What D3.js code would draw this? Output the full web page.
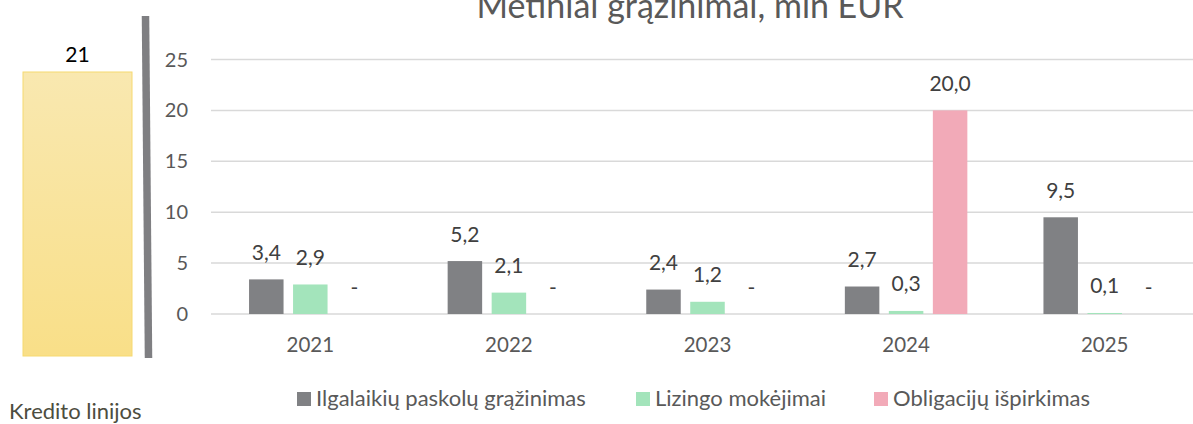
<!DOCTYPE html>
<html>
<head>
<meta charset="utf-8">
<title>Metiniai grąžinimai</title>
<style>
  body { margin: 0; background: #fff; }
  svg { display: block; font-family: Lato, "Open Sans", sans-serif; }
</style>
</head>
<body>
<svg id="chart" width="1193" height="424"></svg>
<script src="https://d3js.org/d3.v7.min.js"></script>
<script>
// data
var years = ['2021', '2022', '2023', '2024', '2025']
var seriesNames = ['Ilgalaikių paskolų grąžinimas', 'Lizingo mokėjimai', 'Obligacijų išpirkimas']
var loans = [3.4, 5.2, 2.4, 2.7, 9.5]
var leasing = [2.9, 2.1, 1.2, 0.3, 0.1]
var bonds = [0, 0, 0, 20.0, 0]
var yTicks = [0, 5, 10, 15, 20, 25]
var creditLabel = 'Kredito linijos'
var creditValue = 21
var title = 'Metiniai grąžinimai, mln EUR'

var colors = ['#808184', '#a3e4bb', '#f2aab8']
var allSeries = [loans, leasing, bonds]

let svg = d3.select('#chart')

// gradient for the credit line box
let defs = svg.append('defs')
let grad = defs.append('linearGradient').attr('id', 'yellowGrad')
  .attr('x1', 0).attr('y1', 0).attr('x2', 0).attr('y2', 1)
grad.append('stop').attr('offset', '0%').attr('stop-color', '#f9e8b0')
grad.append('stop').attr('offset', '100%').attr('stop-color', '#f9df88')

// left panel: credit lines bar, own little scale
let yLeft = d3.scaleLinear().domain([0, creditValue]).range([356, 72])
svg.append('rect')
  .attr('x', 23).attr('width', 109)
  .attr('y', yLeft(creditValue))
  .attr('height', yLeft(0) - yLeft(creditValue))
  .attr('fill', 'url(#yellowGrad)')
  .attr('stroke', '#f6d970').attr('stroke-width', 1)

svg.append('text')
  .attr('x', 77.5).attr('y', yLeft(creditValue) - 10)
  .attr('text-anchor', 'middle')
  .style('font-size', '21px').style('fill', '#000')
  .text(creditValue)

svg.append('text')
  .attr('x', 9).attr('y', 419)
  .style('font-size', '22px').style('fill', '#4d4d40')
  .text(creditLabel)

// thick grey separator
svg.append('line')
  .attr('x1', 145.5).attr('y1', 16).attr('x2', 148.5).attr('y2', 358)
  .attr('stroke', '#7f7f82').attr('stroke-width', 7.5)

// main chart scales
let x0 = d3.scaleBand().domain(years).range([211, 1204])
let x1 = d3.scaleBand().domain(seriesNames).range([-61.25, 61.25]).paddingInner(0.216)
let y = d3.scaleLinear().domain([0, 25]).range([314, 59.5])

// gridlines
svg.append('g').selectAll('line')
  .data(yTicks).enter().append('line')
  .attr('x1', 211).attr('x2', 1193)
  .attr('y1', d => y(d)).attr('y2', d => y(d))
  .attr('stroke', '#d9d9d9').attr('stroke-width', 1.5)

// y axis labels
svg.append('g').selectAll('text')
  .data(yTicks).enter().append('text')
  .attr('x', 188).attr('y', d => y(d))
  .attr('dy', '0.35em')
  .attr('text-anchor', 'end')
  .style('font-size', '20px').style('fill', '#595959')
  .text(d => d)

// x axis labels
svg.append('g').selectAll('text')
  .data(years).enter().append('text')
  .attr('x', d => x0(d) + x0.bandwidth() / 2)
  .attr('y', 352)
  .attr('text-anchor', 'middle')
  .style('font-size', '20.5px').style('fill', '#595959')
  .text(d => d)

// build flat list of bars
let barData = []
years.forEach((yr, i) => {
  seriesNames.forEach((s, j) => {
    barData.push({ year: yr, series: s, value: allSeries[j][i], color: colors[j] })
  })
})

let bars = svg.append('g')
bars.selectAll('rect')
  .data(barData.filter(d => d.value > 0)).enter().append('rect')
  .attr('x', d => x0(d.year) + x0.bandwidth() / 2 + x1(d.series))
  .attr('width', x1.bandwidth())
  .attr('y', d => y(d.value))
  .attr('height', d => y(0) - y(d.value))
  .attr('fill', d => d.color)

// value labels, zero shows as "-"
let fmt = v => v === 0 ? '-' : d3.format('.1f')(v).replace('.', ',')
bars.selectAll('text')
  .data(barData).enter().append('text')
  .attr('x', d => x0(d.year) + x0.bandwidth() / 2 + x1(d.series) + x1.bandwidth() / 2)
  .attr('y', d => y(d.value) - 19.5)
  .attr('text-anchor', 'middle')
  .style('font-size', '21px').style('fill', '#404040')
  .text(d => fmt(d.value))

// title (cut off at top like the original)
svg.append('text')
  .attr('x', 690).attr('y', 18)
  .attr('text-anchor', 'middle')
  .style('font-size', '34px').style('fill', '#595959')
  .text(title)

// legend
let legendX = [297, 636, 874]
let legend = svg.append('g').selectAll('g')
  .data(seriesNames).enter().append('g')
  .attr('transform', (d, i) => 'translate(' + legendX[i] + ',0)')
legend.append('rect')
  .attr('x', 0).attr('y', 392).attr('width', 14).attr('height', 14)
  .attr('fill', (d, i) => colors[i])
legend.append('text')
  .attr('x', 19).attr('y', 406)
  .style('font-size', '22px').style('fill', '#595959')
  .text(d => d)
</script>
</body>
</html>
